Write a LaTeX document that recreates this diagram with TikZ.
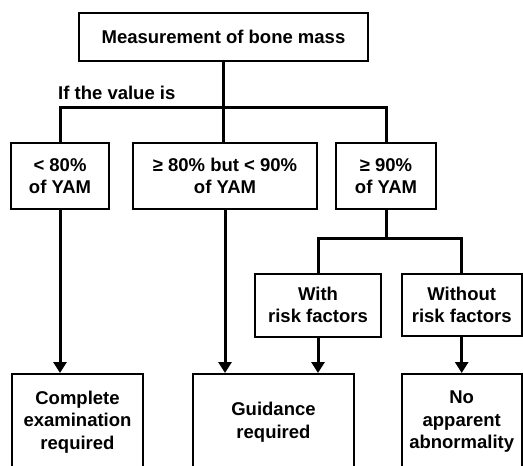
\documentclass[tikz,border=0pt]{standalone}
\usepackage{fontspec}
\setmainfont{Liberation Sans}
\usetikzlibrary{arrows.meta}

\begin{document}
\begin{tikzpicture}
[
	x=1pt,y=-1pt,
	box/.style={draw,line width=2pt,align=center,inner sep=0pt,font=\fontsize{18.5}{22.5}\selectfont\bfseries},
	link/.style={line width=3pt},
	arr/.style={line width=3pt,-{Triangle[width=13pt,length=11pt]}}
]

	\useasboundingbox (0,0) rectangle (523,466);
	\clip (0,0) rectangle (523,466);

	\node[box,minimum width=289pt,minimum height=48pt] at (223.5,37) (bone) {Measurement of bone mass};
	\node[anchor=west,inner sep=0pt,font=\fontsize{18.5}{22.5}\selectfont\bfseries] at (58,93) (ifval) {If the value is};

	\node[box,minimum width=98pt,minimum height=66pt] at (60,176) (low) {< 80\%\\of YAM};
	\node[box,minimum width=184pt,minimum height=66pt] at (225,176) (mid) {≥ 80\% but < 90\%\\of YAM};
	\node[box,minimum width=100pt,minimum height=66pt] at (386,176) (high) {≥ 90\%\\of YAM};

	\node[box,minimum width=126pt,minimum height=63pt] at (318,305) (withrisk) {With\\risk factors};
	\node[box,minimum width=120pt,minimum height=62pt] at (461.7,305) (norisk) {Without\\risk factors};

	\node[box,minimum width=131pt,minimum height=96pt] at (77.5,422) (exam) {Complete\\examination\\required};
	\node[box,minimum width=161pt,minimum height=96pt] at (273.5,422) (guide) {Guidance\\required};
	\node[box,minimum width=120pt,minimum height=96pt] at (461.7,422) (normal) {No\\apparent\\abnormality};

	\coordinate (split) at (223,107);
	\coordinate (fork) at (388,238);

	\draw[link] (bone.south) -- (bone.south |- mid.north);
	\draw[link] (low.north) |- (split) -| (high.north);
	\draw[link] (high.south) -- (high.south |- fork);
	\draw[link] (withrisk.north) |- (fork) -| (norisk.north);

	\draw[arr] (low.south) -- (low.south |- exam.north);
	\draw[arr] (mid.south) -- (mid.south |- guide.north);
	\draw[arr] (withrisk.south) -- (withrisk.south |- guide.north);
	\draw[arr] (norisk.south) -- (normal.north);

\end{tikzpicture}
\end{document}
